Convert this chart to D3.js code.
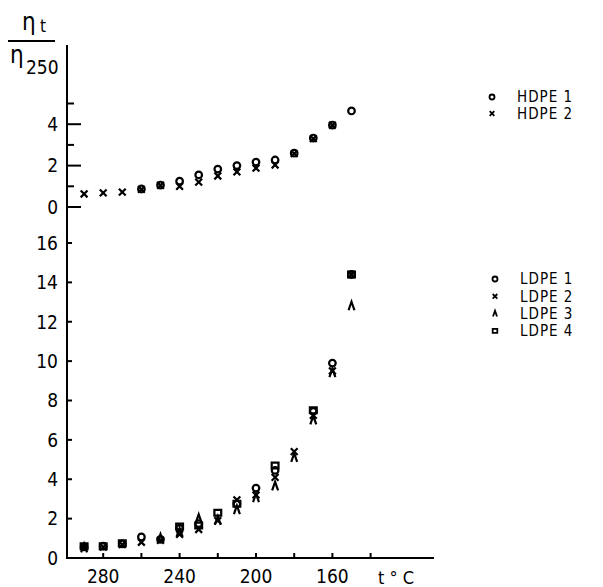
<!DOCTYPE html>
<html>
<head>
<meta charset="utf-8">
<script src="https://cdn.jsdelivr.net/npm/d3@7"></script>
<style>
  body { margin: 0; background: #fff; }
  svg text { font-family: "Liberation Sans Narrow", "DejaVu Sans Condensed", "Liberation Sans", sans-serif; fill: #000; }
</style>
</head>
<body>
<script>
// temperatures (deg C), shared by every series
var temps = [290, 280, 270, 260, 250, 240, 230, 220, 210, 200, 190, 180, 170, 160, 150];

// upper panel: eta_t / eta_250 for HDPE
var hdpe1 = [null, null, null, 0.87, 1.06, 1.25, 1.55, 1.83, 2.0, 2.17, 2.27, 2.6, 3.33, 3.96, 4.64];
var hdpe2 = [0.63, 0.68, 0.72, 0.85, 1.05, 1.0, 1.2, 1.5, 1.7, 1.88, 2.03, 2.58, 3.3, 3.95, null];

// lower panel: LDPE
var ldpe1 = [0.56, 0.6, 0.72, 1.07, 0.95, 1.5, 1.75, null, 2.75, 3.55, 4.45, null, 7.45, 9.9, 14.4];
var ldpe2 = [0.55, 0.55, 0.68, 0.8, 0.9, 1.2, 1.45, 1.9, 2.95, 3.2, 4.1, 5.4, 7.25, 9.5, 14.4];
var ldpe3 = [0.5, null, null, null, 1.0, 1.3, 2.0, 1.9, 2.45, 3.05, 3.65, 5.1, 7.0, 9.4, 12.8];
var ldpe4 = [0.6, 0.6, 0.75, null, null, 1.6, 1.65, 2.3, 2.75, null, 4.7, null, 7.5, null, 14.4];

var xTicks = [280, 260, 240, 220, 200, 180, 160, 140];
var xLabels = [280, 240, 200, 160];
var upperTicks = [0, 1, 2, 3, 4, 5];
var upperLabels = [0, 2, 4];
var lowerTicks = [0, 2, 4, 6, 8, 10, 12, 14, 16];
var lowerLabels = [0, 2, 4, 6, 8, 10, 12, 14, 16];

var width = 603, height = 587;
var svg = d3.select("body").append("svg")
  .attr("width", width)
  .attr("height", height);

var axisX = 67, baseY = 558;

var x = d3.scaleLinear().domain([300, 140]).range([65, 370.6]);
var yUp = d3.scaleLinear().domain([0, 5]).range([207, 103.5]);
var yLow = d3.scaleLinear().domain([0, 16]).range([baseY, 243]);

// marker shapes
var shapes = {
  circle: function (s) { return d3.symbol().type(d3.symbolCircle).size(Math.PI * s * s)(); },
  cross: function (s) { return "M" + (-s) + "," + (-s) + "L" + s + "," + s + "M" + (-s) + "," + s + "L" + s + "," + (-s); },
  caret: function (s) { return "M" + (-s * 0.8) + "," + (s * 1.15) + "L0," + (-s * 1.15) + "L" + (s * 0.8) + "," + (s * 1.15); },
  square: function (s) { return "M" + (-s) + "," + (-s * 0.85) + "h" + (2 * s) + "v" + (1.7 * s) + "h" + (-2 * s) + "Z"; }
};

function drawSeries(vals, y, shape, size) {
  var pts = temps.map(function (t, i) { return { t: t, v: vals[i] }; })
    .filter(function (d) { return d.v != null; });
  svg.append("g").selectAll("path")
    .data(pts)
    .enter().append("path")
    .attr("transform", function (d) { return "translate(" + x(d.t) + "," + y(d.v) + ")"; })
    .attr("d", shapes[shape](size))
    .attr("fill", "none")
    .attr("stroke", "#000")
    .attr("stroke-width", 2.2);
}

// axis lines
svg.append("line")
  .attr("x1", axisX).attr("x2", axisX)
  .attr("y1", 45).attr("y2", baseY + 1)
  .attr("stroke", "#000").attr("stroke-width", 2);
svg.append("line")
  .attr("x1", axisX - 1).attr("x2", 434)
  .attr("y1", baseY).attr("y2", baseY)
  .attr("stroke", "#000").attr("stroke-width", 2);

// upper y ticks (inward)
svg.append("g").selectAll("line")
  .data(upperTicks)
  .enter().append("line")
  .attr("x1", axisX).attr("x2", function (d) { return axisX + (d % 2 === 0 ? 14 : 7); })
  .attr("y1", function (d) { return yUp(d); }).attr("y2", function (d) { return yUp(d); })
  .attr("stroke", "#000").attr("stroke-width", 2);
svg.append("g").selectAll("text")
  .data(upperLabels)
  .enter().append("text")
  .attr("x", axisX - 9)
  .attr("y", function (d) { return yUp(d); })
  .attr("dy", "0.36em")
  .attr("text-anchor", "end")
  .style("font-size", "19px")
  .text(function (d) { return d; });

// lower y ticks
svg.append("g").selectAll("line")
  .data(lowerTicks.slice(1))
  .enter().append("line")
  .attr("x1", axisX).attr("x2", axisX + 5)
  .attr("y1", function (d) { return yLow(d); }).attr("y2", function (d) { return yLow(d); })
  .attr("stroke", "#000").attr("stroke-width", 2);
svg.append("g").selectAll("text")
  .data(lowerLabels)
  .enter().append("text")
  .attr("x", axisX - 9)
  .attr("y", function (d) { return yLow(d); })
  .attr("dy", "0.36em")
  .attr("text-anchor", "end")
  .style("font-size", "19px")
  .text(function (d) { return d; });

// x ticks (inward)
svg.append("g").selectAll("line")
  .data(xTicks)
  .enter().append("line")
  .attr("x1", function (d) { return x(d); }).attr("x2", function (d) { return x(d); })
  .attr("y1", baseY).attr("y2", baseY - 5)
  .attr("stroke", "#000").attr("stroke-width", 2);
svg.append("g").selectAll("text")
  .data(xLabels)
  .enter().append("text")
  .attr("x", function (d) { return x(d); })
  .attr("y", 583)
  .attr("text-anchor", "middle")
  .style("font-size", "19px")
  .text(function (d) { return d; });

// x axis title
svg.append("text")
  .attr("x", 378).attr("y", 584)
  .style("font-size", "18px")
  .text("t \u00b0 C");

// y axis title: eta_t / eta_250
var yt = svg.append("g");
yt.append("text").attr("x", 22).attr("y", 30).style("font-size", "24px").text("\u03b7");
yt.append("text").attr("x", 40).attr("y", 32).style("font-size", "17px").text("t");
yt.append("line").attr("x1", 8).attr("x2", 55).attr("y1", 41).attr("y2", 41)
  .attr("stroke", "#000").attr("stroke-width", 2);
yt.append("text").attr("x", 10).attr("y", 63).style("font-size", "24px").text("\u03b7");
yt.append("text").attr("x", 26).attr("y", 74).style("font-size", "19px").text("250");

// data
drawSeries(hdpe2, yUp, "cross", 3.4);
drawSeries(hdpe1, yUp, "circle", 3.3);
drawSeries(ldpe3, yLow, "caret", 3.7);
drawSeries(ldpe2, yLow, "cross", 3.4);
drawSeries(ldpe1, yLow, "circle", 3.3);
drawSeries(ldpe4, yLow, "square", 3.4);

// legends
function legend(items, x0, y0, dy) {
  var g = svg.append("g");
  items.forEach(function (it, i) {
    g.append("path")
      .attr("transform", "translate(" + x0 + "," + (y0 + i * dy) + ")")
      .attr("d", shapes[it.shape](it.size))
      .attr("fill", "none").attr("stroke", "#000").attr("stroke-width", 1.8);
    g.append("text")
      .attr("x", x0 + 25).attr("y", y0 + i * dy)
      .attr("dy", "0.35em")
      .style("font-size", "15px")
      .style("letter-spacing", "1px")
      .text(it.name);
  });
}
legend([
  { name: "HDPE 1", shape: "circle", size: 2.5 },
  { name: "HDPE 2", shape: "cross", size: 2.3 }
], 492, 97, 16.5);
legend([
  { name: "LDPE 1", shape: "circle", size: 2.5 },
  { name: "LDPE 2", shape: "cross", size: 2.3 },
  { name: "LDPE 3", shape: "caret", size: 2.5 },
  { name: "LDPE 4", shape: "square", size: 2.3 }
], 495, 279, 17.3);
</script>
</body>
</html>
